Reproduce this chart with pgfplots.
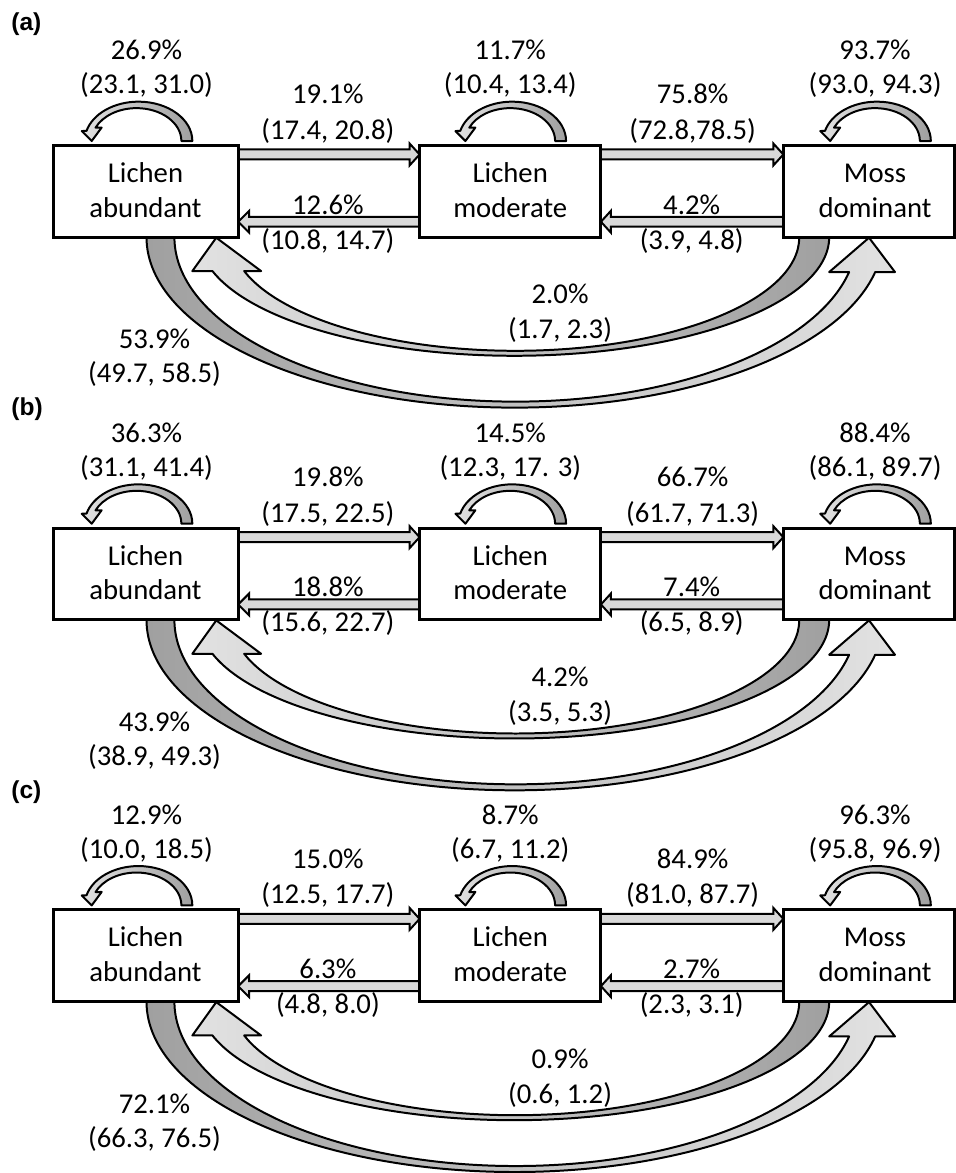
\documentclass[border=0pt]{standalone}
\usepackage{pgfplots}
\pgfplotsset{compat=1.18}
\usepackage{fontspec}
\setmainfont{Carlito}
\newfontfamily\lbf{Liberation Sans}
\definecolor{cD}{RGB}{160,160,160}
\definecolor{cL}{RGB}{226,226,226}
\definecolor{cH}{RGB}{217,217,217}
% point on ellipse: cx cy rx ry t
\newcommand\ept[5]{(axis cs:{(#1)+(#3)*cos(#5)},{(#2)+(#4)*sin(#5)})}
% bezier ellipse segment from t0 to t1
\newcommand\ebz[6]{.. controls (axis cs:{(#1)+(#3)*cos(#5)-(4/3)*tan(((#6)-(#5))/4)*(#3)*sin(#5)},{(#2)+(#4)*sin(#5)+(4/3)*tan(((#6)-(#5))/4)*(#4)*cos(#5)}) and (axis cs:{(#1)+(#3)*cos(#6)+(4/3)*tan(((#6)-(#5))/4)*(#3)*sin(#6)},{(#2)+(#4)*sin(#6)-(4/3)*tan(((#6)-(#5))/4)*(#4)*cos(#6)}) .. (axis cs:{(#1)+(#3)*cos(#6)},{(#2)+(#4)*sin(#6)})}
\newcommand\selfloop[2]{%
 \shade[left color=cL, right color=cD, draw=black, line width=1pt, line join=round]
  \ept{#1-2}{#2}{54}{-39.5}{0} \ebz{#1-2}{#2}{54}{-39.5}{0}{90} \ebz{#1-2}{#2}{54}{-39.5}{90}{165}
  -- (axis cs:{#1-59},{#2-10}) -- (axis cs:{#1-49},{#2}) -- (axis cs:{#1-39},{#2-13.5})
  -- \ept{#1-4}{#2}{45}{-33}{156} \ebz{#1-4}{#2}{45}{-33}{156}{90} \ebz{#1-4}{#2}{45}{-33}{90}{0} -- cycle;}
\newcommand\outerarc[1]{%
 \shade[left color=cD, right color=cL, draw=black, line width=1pt, line join=round]
  \ept{516.5}{238+#1}{369.5}{171}{180} \ebz{516.5}{238+#1}{369.5}{171}{180}{90} \ebz{516.5}{238+#1}{369.5}{171}{90}{11.81}
  -- (axis cs:898,{273+#1}) -- (axis cs:872,{238.5+#1}) -- (axis cs:832,{273+#1})
  -- \ept{517.4}{238+#1}{342.4}{165}{12.25} \ebz{517.4}{238+#1}{342.4}{165}{12.25}{90} \ebz{517.4}{238+#1}{342.4}{165}{90}{180} -- cycle;}
\newcommand\innerarc[1]{%
 \shade[left color=cL, right color=cD, draw=black, line width=1pt, line join=round]
  \ept{516}{238+#1}{316}{119}{0} \ebz{516}{238+#1}{316}{119}{0}{90} \ebz{516}{238+#1}{316}{119}{90}{163.4}
  -- (axis cs:193,{272+#1}) -- (axis cs:217,{238.5+#1}) -- (axis cs:262,{272+#1})
  -- \ept{517}{238+#1}{285}{114}{162.65} \ebz{517}{238+#1}{285}{114}{162.65}{90} \ebz{517}{238+#1}{285}{114}{90}{0} -- cycle;}
\newcommand\ha[4]{\draw[fill=cH,line width=1pt] (axis cs:#1,{#4-5}) -- (axis cs:#2,{#4-5}) -- (axis cs:#2,{#4-11}) -- (axis cs:#3,{#4}) -- (axis cs:#2,{#4+11}) -- (axis cs:#2,{#4+5}) -- (axis cs:#1,{#4+5}) -- cycle;}
\newcommand\lab[3]{\node[anchor=base,inner sep=0pt,font=\fontsize{14.4}{17.5}\selectfont] at (axis cs:#1,#2) {#3};}
\newcommand\pair[5]{\lab{#1}{#2}{#4}\lab{#1}{#3}{#5}}
\newcommand\panel[1]{%
 \innerarc{#1}\outerarc{#1}
 \selfloop{141}{141.5+#1}\selfloop{516}{141.5+#1}\selfloop{882}{141.5+#1}
 \ha{239}{411}{421}{155+#1}\ha{421}{250}{239}{222.5+#1}
 \ha{603}{776}{786}{155+#1}\ha{786}{613}{603}{222.5+#1}
 \draw[line width=1.5pt,fill=white] (axis cs:54,{146+#1}) rectangle (axis cs:239,{238+#1});
 \draw[line width=1.5pt,fill=white] (axis cs:421,{146+#1}) rectangle (axis cs:603,{238+#1});
 \draw[line width=1.5pt,fill=white] (axis cs:786,{146+#1}) rectangle (axis cs:957.5,{238+#1});
 \pair{146}{183+#1}{218+#1}{Lichen}{abundant}
 \pair{512}{183+#1}{218+#1}{Lichen}{moderate}
 \pair{878}{183+#1}{218+#1}{Moss}{dominant}}
\begin{document}
\begin{tikzpicture}
\begin{axis}[width=479.5pt, height=586.5pt, scale only axis, xmin=0, xmax=959, ymin=0, ymax=1173,
  y dir=reverse, hide axis, clip=false]
\path (axis cs:0,0) rectangle (axis cs:959,1173);
\panel{0}
\panel{384}
\panel{767}
% panel labels
\node[anchor=base west,inner sep=0pt,font=\lbf\bfseries\fontsize{12.3}{14}\selectfont] at (axis cs:11,31) {(a)};
\node[anchor=base west,inner sep=0pt,font=\lbf\bfseries\fontsize{12.3}{14}\selectfont] at (axis cs:11,417) {(b)};
\node[anchor=base west,inner sep=0pt,font=\lbf\bfseries\fontsize{12.3}{14}\selectfont] at (axis cs:11,801) {(c)};
% (a)
\pair{147}{60}{94}{26.9\%}{(23.1, 31.0)}
\pair{512}{60}{94}{11.7\%}{(10.4, 13.4)}
\pair{878}{60}{94}{93.7\%}{(93.0, 94.3)}
\pair{329}{104}{140}{19.1\%}{(17.4, 20.8)}
\pair{695}{104}{140}{75.8\%}{(72.8,78.5)}
\pair{329}{215}{250}{12.6\%}{(10.8, 14.7)}
\pair{694}{215}{250}{4.2\%}{(3.9, 4.8)}
\pair{562}{305}{340}{2.0\%}{(1.7, 2.3)}
\pair{155}{350}{384}{53.9\%}{(49.7, 58.5)}
% (b)
\pair{147}{444}{478}{36.3\%}{(31.1, 41.4)}
\pair{512}{444}{478}{14.5\%}{(12.3, 17. 3)}
\pair{878}{444}{478}{88.4\%}{(86.1, 89.7)}
\pair{329}{488}{524}{19.8\%}{(17.5, 22.5)}
\pair{695}{488}{524}{66.7\%}{(61.7, 71.3)}
\pair{329}{599}{634}{18.8\%}{(15.6, 22.7)}
\pair{694}{599}{634}{7.4\%}{(6.5, 8.9)}
\pair{562}{689}{724}{4.2\%}{(3.5, 5.3)}
\pair{155}{734}{768}{43.9\%}{(38.9, 49.3)}
% (c)
\pair{147}{827}{861}{12.9\%}{(10.0, 18.5)}
\pair{512}{827}{861}{8.7\%}{(6.7, 11.2)}
\pair{878}{827}{861}{96.3\%}{(95.8, 96.9)}
\pair{329}{871}{907}{15.0\%}{(12.5, 17.7)}
\pair{695}{871}{907}{84.9\%}{(81.0, 87.7)}
\pair{329}{982}{1017}{6.3\%}{(4.8, 8.0)}
\pair{694}{982}{1017}{2.7\%}{(2.3, 3.1)}
\pair{562}{1072}{1107}{0.9\%}{(0.6, 1.2)}
\pair{155}{1117}{1151}{72.1\%}{(66.3, 76.5)}
\end{axis}
\end{tikzpicture}
\end{document}
